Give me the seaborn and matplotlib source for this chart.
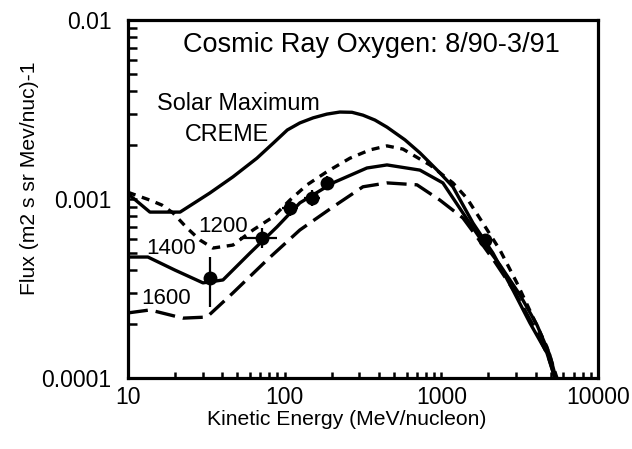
import numpy as np
import pandas as pd
import matplotlib
matplotlib.use("Agg")
import matplotlib.pyplot as plt
import seaborn as sns
from matplotlib.ticker import FixedLocator, FixedFormatter, LogLocator, NullFormatter

# Solar maximum CREME model spectrum
energy_creme = [10, 13.8, 21.5, 27, 33.3, 46.8, 66.5, 85, 104, 125, 152, 186, 225, 269,
                316, 377, 450, 586, 730, 979, 1185, 1592, 2135, 2865, 3676, 4720, 5310]
flux_creme = [1.07e-3, 8.45e-4, 8.45e-4, 9.6e-4, 1.08e-3, 1.33e-3, 1.69e-3, 2.06e-3,
              2.43e-3, 2.66e-3, 2.84e-3, 2.98e-3, 3.06e-3, 3.05e-3, 2.94e-3, 2.76e-3,
              2.52e-3, 2.14e-3, 1.81e-3, 1.40e-3, 1.17e-3, 7.34e-4, 4.99e-4, 3.10e-4,
              2.03e-4, 1.38e-4, 1.0e-4]

# Modulated spectra for deceleration parameters 1200, 1400, 1600
energy_1200 = [10, 13.8, 16.5, 19.4, 23.8, 28.8, 34.8, 46.8, 62.8, 84.2, 108, 139, 186,
               261, 350, 450, 569, 845, 1185, 1456, 1841, 2366, 3036, 3843, 4723, 5470]
flux_1200 = [1.09e-3, 9.86e-4, 9.24e-4, 8.35e-4, 6.89e-4, 5.90e-4, 5.32e-4, 5.53e-4,
             6.71e-4, 7.93e-4, 9.86e-4, 1.20e-3, 1.42e-3, 1.69e-3, 1.88e-3, 1.98e-3,
             1.90e-3, 1.55e-3, 1.23e-3, 1.01e-3, 7.34e-4, 5.19e-4, 3.40e-4, 2.19e-4,
             1.49e-4, 1.0e-4]

energy_1400 = [10, 13.4, 19.9, 30.1, 40.4, 60.1, 89.3, 125, 203, 335, 450, 730, 1023,
               1374, 1763, 2366, 3177, 4077, 4932, 5385]
flux_1400 = [4.74e-4, 4.74e-4, 4.01e-4, 3.40e-4, 3.53e-4, 4.99e-4, 6.98e-4, 9.51e-4,
             1.23e-3, 1.49e-3, 1.55e-3, 1.45e-3, 1.23e-3, 8.35e-4, 6.05e-4, 4.28e-4,
             2.91e-4, 1.98e-4, 1.34e-4, 1.0e-4]

energy_1600 = [10, 13.8, 22.4, 31.9, 46.8, 77.1, 125, 203, 316, 450, 699, 979, 1374,
               1687, 2198, 2951, 3843, 4786, 5309]
flux_1600 = [2.31e-4, 2.40e-4, 2.16e-4, 2.19e-4, 2.99e-4, 4.56e-4, 6.71e-4, 9.02e-4,
             1.17e-3, 1.23e-3, 1.20e-3, 9.86e-4, 7.83e-4, 6.14e-4, 4.45e-4, 3.02e-4,
             1.98e-4, 1.34e-4, 1.0e-4]

# Measured oxygen flux with error ranges
obs_energy = [33.3, 71.6, 108, 149, 186, 1900]
obs_flux = [3.62e-4, 6.05e-4, 8.9e-4, 1.01e-3, 1.23e-3, 5.9e-4]
obs_e_lo = [33.3, 52, 96, 133, 172, 1900]
obs_e_hi = [33.3, 89, 121, 167, 200, 1900]
obs_f_lo = [2.50e-4, 5.3e-4, 8.0e-4, 9.1e-4, 1.12e-3, 5.9e-4]
obs_f_hi = [4.74e-4, 6.9e-4, 9.9e-4, 1.12e-3, 1.35e-3, 5.9e-4]

x_ticks = [10, 100, 1000, 10000]
x_tick_labels = ["10", "100", "1000", "10000"]
y_ticks = [1e-4, 1e-3, 1e-2]
y_tick_labels = ["0.0001", "0.001", "0.01"]

sns.set_theme(style="white")
plt.rcParams["font.family"] = ["Liberation Sans", "DejaVu Sans"]

fig = plt.figure(figsize=(6.32, 4.49), dpi=100)
ax = fig.add_axes([0.2025, 0.1581, 0.7437, 0.7974])
ax.set_xscale("log")
ax.set_yscale("log")

curves = [
    (energy_creme, flux_creme, "-"),
    (energy_1200, flux_1200, (0, (2.4, 2.0))),
    (energy_1400, flux_1400, "-"),
    (energy_1600, flux_1600, (0, (6.0, 2.4))),
]
for e, f, ls in curves:
    df = pd.DataFrame({"energy": e, "flux": f})
    sns.lineplot(data=df, x="energy", y="flux", ax=ax, color="black", linewidth=2.4,
                 linestyle=ls, sort=False, estimator=None, legend=False,
                 solid_joinstyle="round", dash_joinstyle="round")

obs_e = np.array(obs_energy)
obs_f = np.array(obs_flux)
ax.errorbar(obs_e, obs_f,
            xerr=[obs_e - np.array(obs_e_lo), np.array(obs_e_hi) - obs_e],
            yerr=[obs_f - np.array(obs_f_lo), np.array(obs_f_hi) - obs_f],
            fmt="none", ecolor="black", elinewidth=1.6, capsize=0, zorder=4)
sns.scatterplot(x=obs_energy, y=obs_flux, ax=ax, color="black", s=100,
                edgecolor="black", linewidth=0, zorder=5, legend=False)

ax.set_xlim(10, 10000)
ax.set_ylim(1e-4, 1e-2)

ax.xaxis.set_major_locator(FixedLocator(x_ticks))
ax.xaxis.set_major_formatter(FixedFormatter(x_tick_labels))
ax.yaxis.set_major_locator(FixedLocator(y_ticks))
ax.yaxis.set_major_formatter(FixedFormatter(y_tick_labels))
for axis in (ax.xaxis, ax.yaxis):
    axis.set_minor_locator(LogLocator(base=10, subs=np.arange(2, 10)))
    axis.set_minor_formatter(NullFormatter())

ax.tick_params(which="both", direction="in", bottom=True, left=True, top=False,
               right=False, color="black", width=1.8, labelsize=16.5,
               labelcolor="black")
ax.tick_params(axis="y", which="both", length=6.5, pad=12)
ax.tick_params(axis="x", which="both", length=4.5, pad=6)

for sp in ax.spines.values():
    sp.set_color("black")
    sp.set_linewidth(2.3)

ax.set_xlabel("Kinetic Energy (MeV/nucleon)", fontsize=15.2, color="black")
ax.xaxis.set_label_coords(0.466, -0.089)
ax.set_ylabel("Flux (m2 s sr Mev/nuc)-1", fontsize=15.2, color="black")
ax.yaxis.set_label_coords(-0.19, 0.559)

ax.text(0.519, 0.930, "Cosmic Ray Oxygen: 8/90-3/91", transform=ax.transAxes,
        ha="center", va="center", fontsize=19.5, color="black")
ax.text(0.234, 0.768, "Solar Maximum", transform=ax.transAxes,
        ha="center", va="center", fontsize=16.8, color="black")
ax.text(0.211, 0.679, "CREME", transform=ax.transAxes,
        ha="center", va="center", fontsize=16.8, color="black")
ax.text(0.202, 0.422, "1200", transform=ax.transAxes,
        ha="center", va="center", fontsize=16, color="black")
ax.text(0.0915, 0.363, "1400", transform=ax.transAxes,
        ha="center", va="center", fontsize=16, color="black")
ax.text(0.081, 0.223, "1600", transform=ax.transAxes,
        ha="center", va="center", fontsize=16, color="black")

fig.savefig("out.png", dpi=100)
